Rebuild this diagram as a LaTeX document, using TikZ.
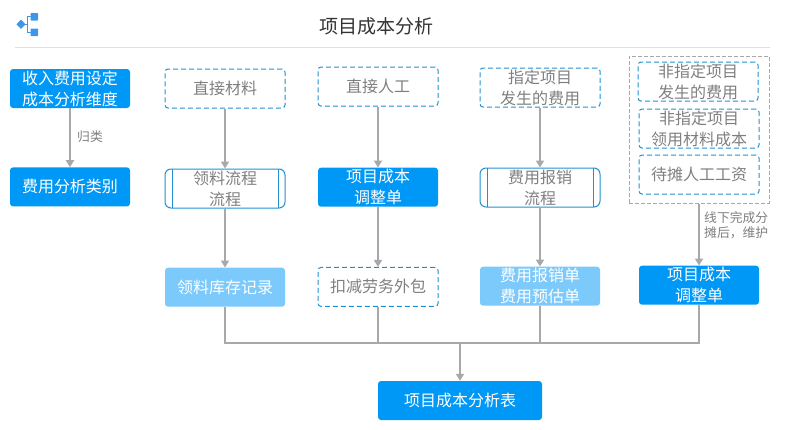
\documentclass[tikz,border=0pt]{standalone}
\usepackage{fontspec}
\setmainfont{Noto Sans CJK SC}
\usetikzlibrary{positioning,arrows.meta}
\definecolor{solidblue}{HTML}{0098F7}
\definecolor{paleblue}{HTML}{7CC9FB}
\definecolor{dashblue}{HTML}{2090D0}
\definecolor{linegray}{HTML}{A8A8A8}
\definecolor{textgray}{HTML}{7F7F7F}
\definecolor{icongray}{HTML}{3F95E8}
\tikzset{
	base/.style={minimum width=120pt, minimum height=39pt, inner sep=0pt, align=center, rounded corners=3pt, font=\fontsize{16}{21}\selectfont},
	solidbox/.style={base, fill=solidblue, text=white},
	palebox/.style={base, fill=paleblue, text=white},
	dashbox/.style={base, draw=dashblue, dash pattern=on 5pt off 3pt, line width=1pt, text=textgray},
	procbox/.style={base, rounded corners=6pt, draw=dashblue, line width=1pt, text=textgray, path picture={
		\draw[dashblue, line width=1pt] ([xshift=7pt]path picture bounding box.north west) -- ([xshift=7pt]path picture bounding box.south west);
		\draw[dashblue, line width=1pt] ([xshift=-7pt]path picture bounding box.north east) -- ([xshift=-7pt]path picture bounding box.south east);
	}},
	edgelabel/.style={text=textgray, align=left, inner sep=0pt, font=\fontsize{12.8}{15}\selectfont},
	link/.style={draw=linegray, line width=2pt},
	arrow/.style={link, -{Triangle[length=7pt, width=8pt]}},
}
\begin{document}
\begin{tikzpicture}[x=1pt, y=-1pt]
	\useasboundingbox (0,0) rectangle (790,429);
	% Header
	\node[font=\fontsize{19}{22}\selectfont, text=black!80, inner sep=0pt] (title) at (376,26) {项目成本分析};
	\coordinate (ruleL) at (15,47);
	\coordinate (ruleR) at (770,47);
	\draw[black!12, line width=1pt] (ruleL) -- (ruleR);
	% Icon
	\fill[icongray] (21,19.5) -- (25.5,24.3) -- (21,29) -- (16.5,24.3) -- cycle;
	\fill[icongray, rounded corners=0.7pt] (30.5,13) rectangle (38,20.5);
	\fill[icongray, rounded corners=0.7pt] (30.5,28.5) rectangle (38,36);
	\draw[icongray, line width=1.6pt] (31,16.5) -- (27.5,16.5) -- (27.5,32.5) -- (31,32.5);
	\draw[icongray, line width=1.6pt] (25,24.3) -- (27.5,24.3);
	% Define nodes
	\node[solidbox]                    (dim) at (70,88.5) {收入费用设定\\成本分析维度};
	\node[solidbox, below=59pt of dim] (cat) {费用分析类别};
	\node[dashbox]                         (mat) at (225,88.5) {直接材料};
	\node[procbox, below=60pt of mat]      (pick) {领料流程\\流程};
	\node[palebox, below=59pt of pick]     (stock) {领料库存记录};
	\node[dashbox]                         (lab) at (378,86.5) {直接人工};
	\node[solidbox, below=61pt of lab]     (adj) {项目成本\\调整单};
	\node[dashbox, below=60pt of adj]      (sub) {扣减劳务外包};
	\node[dashbox]                         (fee) at (540,87.5) {指定项目\\发生的费用};
	\node[procbox, below=60pt of fee]      (reim) {费用报销\\流程};
	\node[palebox, below=59pt of reim]     (bill) {费用报销单\\费用预估单};
	\node[dashbox]                         (nfee) at (698,81.5) {非指定项目\\发生的费用};
	\node[dashbox, below=7pt of nfee, xshift=1pt]  (nmat) {非指定项目\\领用材料成本};
	\node[dashbox, below=6pt of nmat]      (wage) {待摊人工工资};
	\node[draw=linegray, dash pattern=on 4pt off 2pt, line width=1pt, inner sep=0pt, minimum width=140pt, minimum height=147pt] (group) at (699,129.5) {};
	\node[solidbox, below=62pt of group]   (adj2) {项目成本\\调整单};
	\node[solidbox, minimum width=164pt]   (table) at (460,400.5) {项目成本分析表};
	\node[edgelabel] (lab1) at (90,137) {归类};
	\node[edgelabel, anchor=west] (lab2) at (704,225.5) {线下完成分\\摊后{\char"FF0C}维护};
	\coordinate (merge) at (460,343);
	% Connect the nodes
	\draw[arrow] (dim) -- (cat);
	\draw[arrow] (mat) -- (pick);
	\draw[arrow] (pick) -- (stock);
	\draw[arrow] (lab) -- (adj);
	\draw[arrow] (adj) -- (sub);
	\draw[arrow] (fee) -- (reim);
	\draw[arrow] (reim) -- (bill);
	\draw[arrow] (group) -- (adj2);
	\draw[link] (stock) |- (merge);
	\draw[link] (sub) |- (merge);
	\draw[link] (bill) |- (merge);
	\draw[link] (adj2) |- (merge);
	\draw[arrow, line width=2.4pt] (merge) -- (table);
\end{tikzpicture}
\end{document}
